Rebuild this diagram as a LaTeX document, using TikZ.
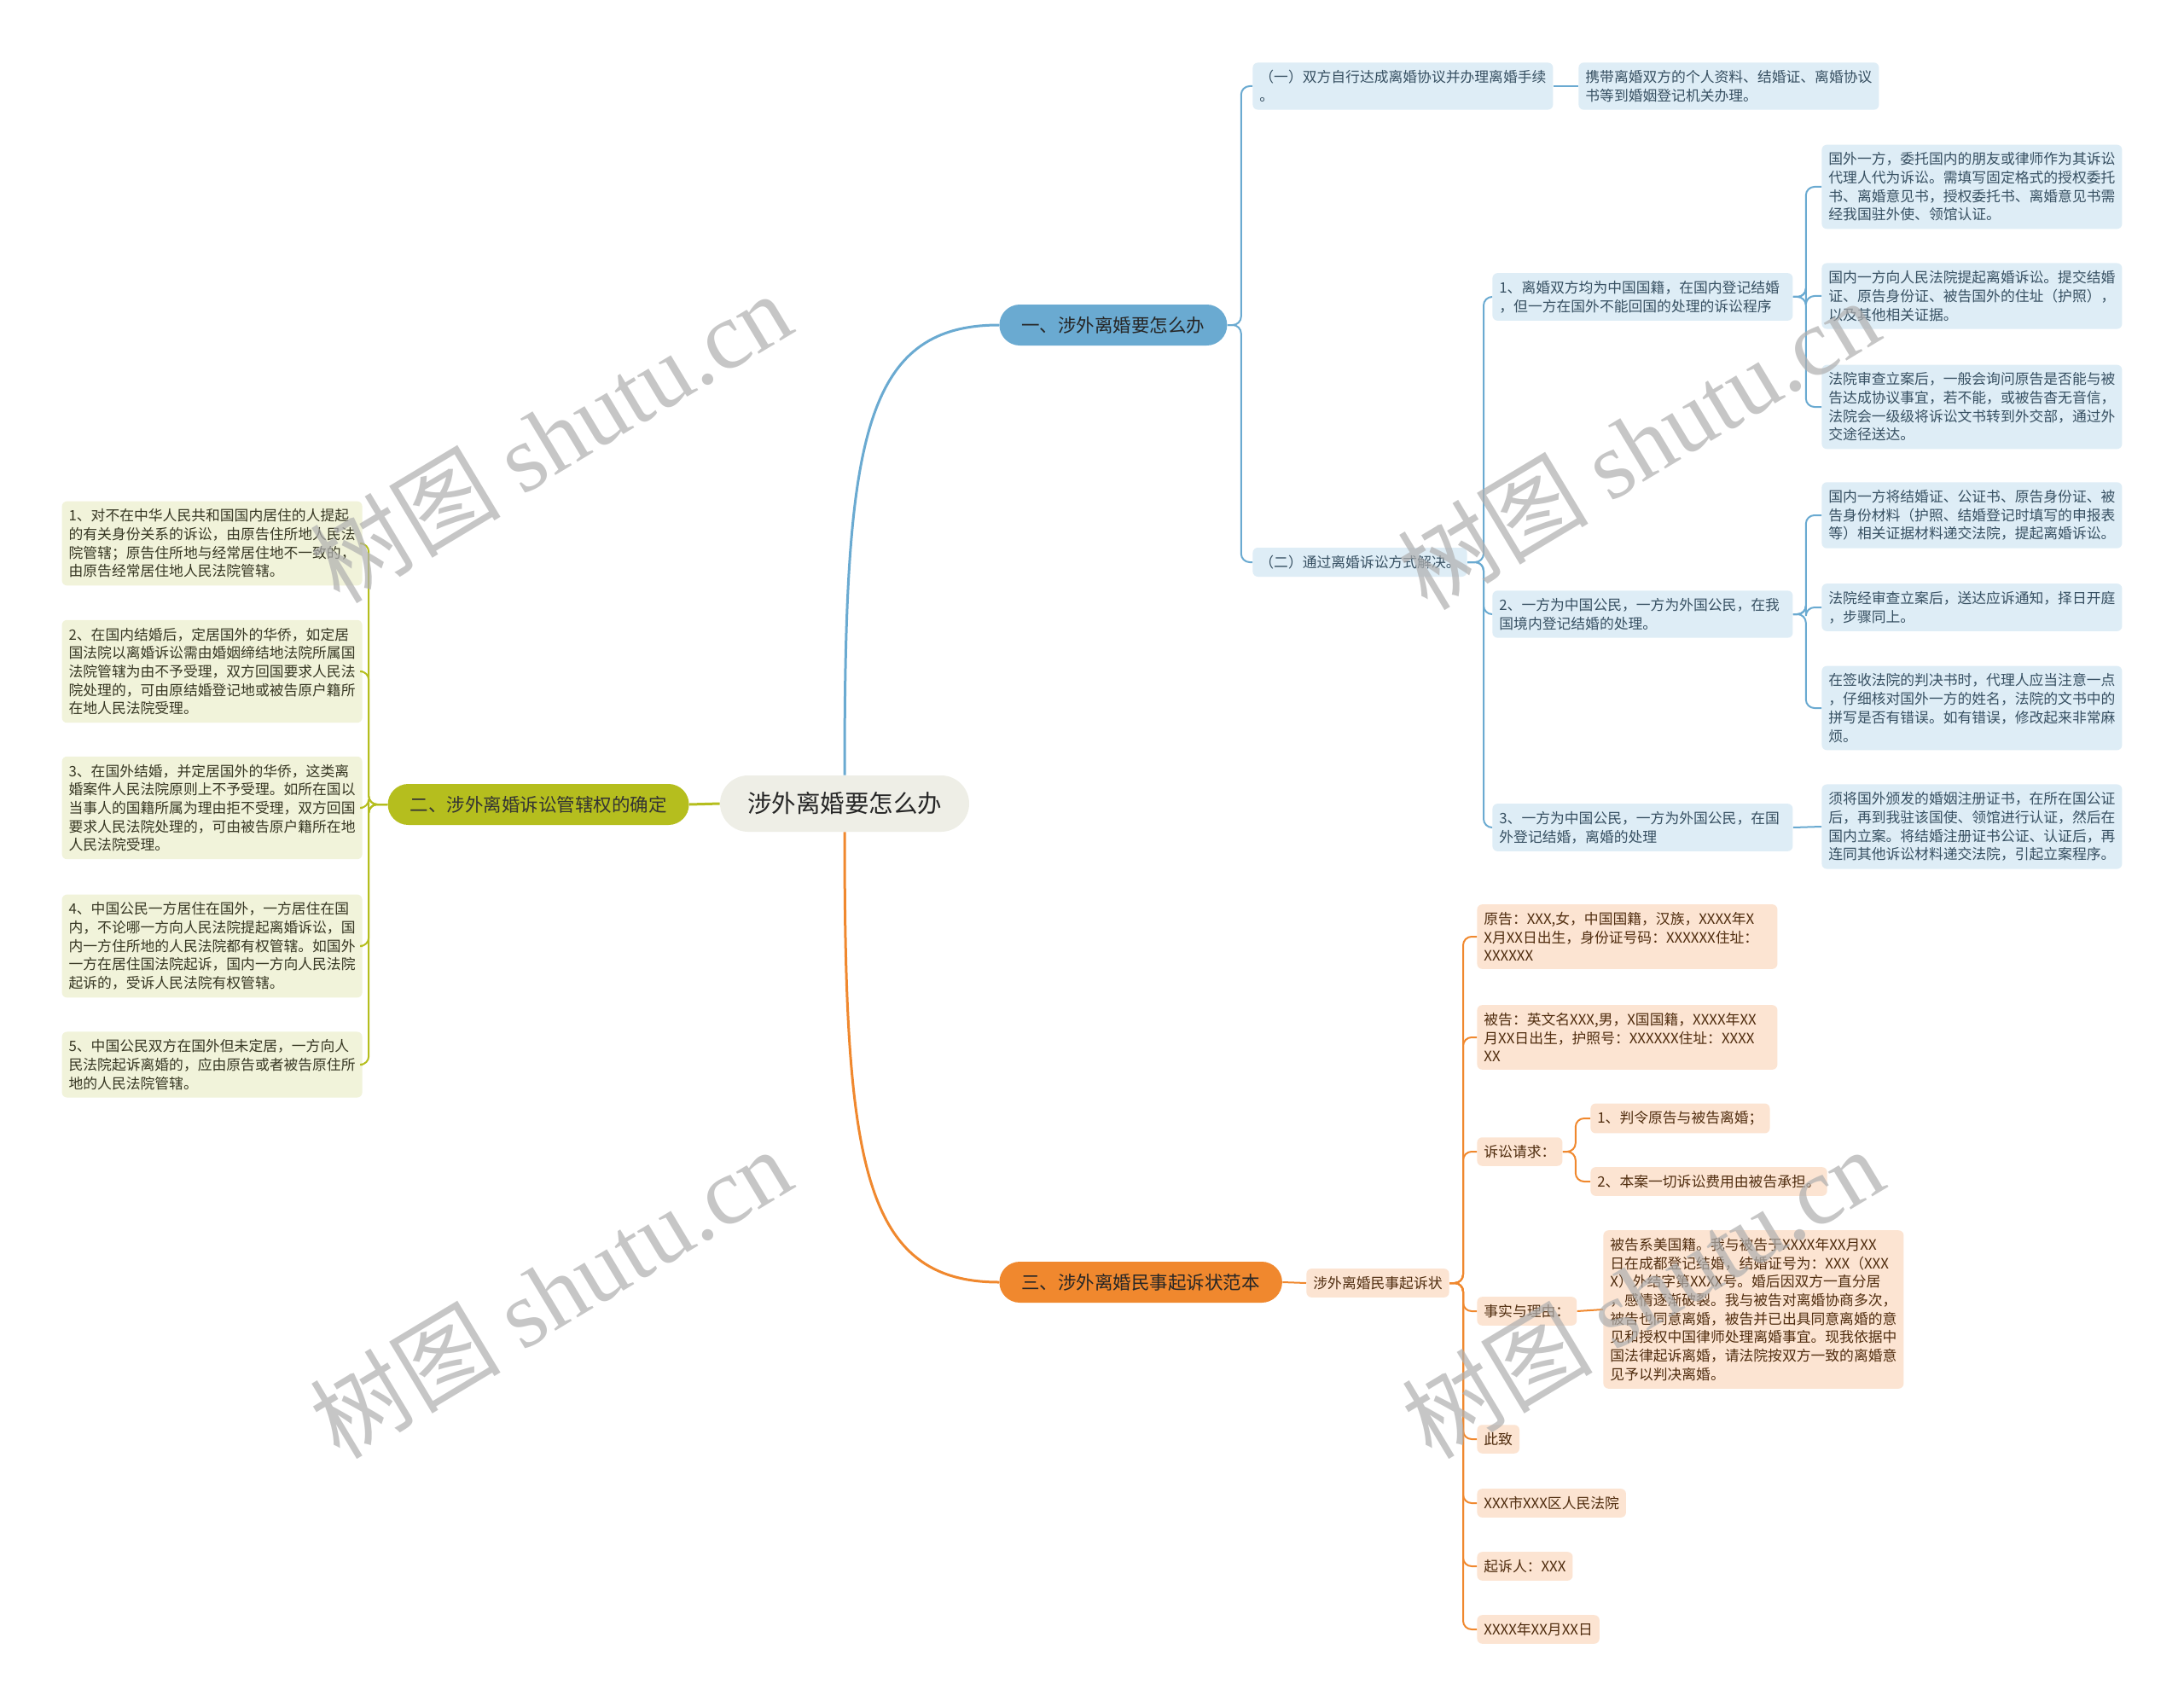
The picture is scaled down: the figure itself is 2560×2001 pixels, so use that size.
\documentclass[tikz,border=0pt]{standalone}
\usepackage{fontspec}
\setmainfont{Noto Sans CJK SC}
\newfontfamily\wmlatin{Liberation Serif}
\definecolor{cblue}{RGB}{106,170,209}
\definecolor{lblue}{RGB}{222,237,246}
\definecolor{tblue}{RGB}{55,80,98}
\definecolor{colive}{RGB}{181,190,30}
\definecolor{lolive}{RGB}{241,243,218}
\definecolor{tolive}{RGB}{55,55,35}
\definecolor{corange}{RGB}{240,136,46}
\definecolor{lorange}{RGB}{252,228,210}
\definecolor{torange}{RGB}{80,45,15}
\definecolor{croot}{RGB}{238,238,230}
\definecolor{wmgray}{RGB}{175,175,175}
\tikzset{
  base/.style={rounded corners=3pt, inner xsep=4pt, inner ysep=4.5pt, align=left,
    font=\fontsize{8.4pt}{10.85pt}\selectfont},
  wide/.style={text width=168pt},
  bbox/.style={base, fill=lblue, text=tblue},
  obox/.style={base, fill=lolive, text=tolive},
  rbox/.style={base, fill=lorange, text=torange},
  branch/.style={rounded corners=12pt, minimum height=24pt, inner xsep=13pt, inner ysep=0pt,
    font=\fontsize{10.75pt}{13pt}\selectfont},
  rootnode/.style={rounded corners=16.5pt, minimum height=33pt, inner xsep=16pt, inner ysep=0pt,
    fill=croot, text=black!85, font=\fontsize{14.25pt}{17pt}\selectfont},
  bline/.style={draw=cblue, line width=1pt, rounded corners=5pt},
  oline/.style={draw=colive, line width=1pt, rounded corners=5pt},
  rline/.style={draw=corange, line width=1pt, rounded corners=5pt},
  mainline/.style={line width=1.5pt},
  wm/.style={text=wmgray, text opacity=0.7, font=\fontsize{56pt}{64pt}\selectfont, inner sep=0pt}
}
\begin{document}
\begin{tikzpicture}[x=0.5pt,y=-0.5pt]
\path[use as bounding box, fill=white] (0,0) rectangle (2560,2001);

% root and branches
\node[rootnode] (root) at (990,942) {涉外离婚要怎么办};
\node[branch, fill=cblue, text=black!85, anchor=west] (b1) at (1171,381) {一、涉外离婚要怎么办};
\node[branch, fill=colive, text=black!80, anchor=east] (b2) at (808,943) {二、涉外离婚诉讼管辖权的确定};
\node[branch, fill=corange, text=black!85, anchor=west] (b3) at (1171,1503) {三、涉外离婚民事起诉状范本};

% blue section
\node[bbox,wide,anchor=west] (a1) at (1468,101) {（一）双方自行达成离婚协议并办理离婚手续\\。};
\node[bbox,wide,anchor=west] (a1a) at (1850,101) {携带离婚双方的个人资料、结婚证、离婚协议\\书等到婚姻登记机关办理。};
\node[bbox,anchor=west] (a2) at (1468,659) {（二）通过离婚诉讼方式解决。};
\node[bbox,wide,anchor=west] (p1) at (1749,348) {1、离婚双方均为中国国籍，在国内登记结婚\\，但一方在国外不能回国的处理的诉讼程序};
\node[bbox,wide,anchor=west] (p2) at (1749,720) {2、一方为中国公民，一方为外国公民，在我\\国境内登记结婚的处理。};
\node[bbox,wide,anchor=west] (p3) at (1749,970) {3、一方为中国公民，一方为外国公民，在国\\外登记结婚，离婚的处理};
\node[bbox,wide,anchor=west] (c1) at (2135,219) {国外一方，委托国内的朋友或律师作为其诉讼\\代理人代为诉讼。需填写固定格式的授权委托\\书、离婚意见书，授权委托书、离婚意见书需\\经我国驻外使、领馆认证。};
\node[bbox,wide,anchor=west] (c2) at (2135,347) {国内一方向人民法院提起离婚诉讼。提交结婚\\证、原告身份证、被告国外的住址（护照），\\以及其他相关证据。};
\node[bbox,wide,anchor=west] (c3) at (2135,477) {法院审查立案后，一般会询问原告是否能与被\\告达成协议事宜，若不能，或被告杳无音信，\\法院会一级级将诉讼文书转到外交部，通过外\\交途径送达。};
\node[bbox,wide,anchor=west] (c4) at (2135,604) {国内一方将结婚证、公证书、原告身份证、被\\告身份材料（护照、结婚登记时填写的申报表\\等）相关证据材料递交法院，提起离婚诉讼。};
\node[bbox,wide,anchor=west] (c5) at (2135,712) {法院经审查立案后，送达应诉通知，择日开庭\\，步骤同上。};
\node[bbox,wide,anchor=west] (c6) at (2135,830) {在签收法院的判决书时，代理人应当注意一点\\，仔细核对国外一方的姓名，法院的文书中的\\拼写是否有错误。如有错误，修改起来非常麻\\烦。};
\node[bbox,wide,anchor=west] (c7) at (2135,969) {须将国外颁发的婚姻注册证书，在所在国公证\\后，再到我驻该国使、领馆进行认证，然后在\\国内立案。将结婚注册证书公证、认证后，再\\连同其他诉讼材料递交法院，引起立案程序。};

% olive section
\node[obox,wide,anchor=east] (l1) at (425,637) {1、对不在中华人民共和国国内居住的人提起\\的有关身份关系的诉讼，由原告住所地人民法\\院管辖；原告住所地与经常居住地不一致的，\\由原告经常居住地人民法院管辖。};
\node[obox,wide,anchor=east] (l2) at (425,787) {2、在国内结婚后，定居国外的华侨，如定居\\国法院以离婚诉讼需由婚姻缔结地法院所属国\\法院管辖为由不予受理，双方回国要求人民法\\院处理的，可由原结婚登记地或被告原户籍所\\在地人民法院受理。};
\node[obox,wide,anchor=east] (l3) at (425,947) {3、在国外结婚，并定居国外的华侨，这类离\\婚案件人民法院原则上不予受理。如所在国以\\当事人的国籍所属为理由拒不受理，双方回国\\要求人民法院处理的，可由被告原户籍所在地\\人民法院受理。};
\node[obox,wide,anchor=east] (l4) at (425,1109) {4、中国公民一方居住在国外，一方居住在国\\内，不论哪一方向人民法院提起离婚诉讼，国\\内一方住所地的人民法院都有权管辖。如国外\\一方在居住国法院起诉，国内一方向人民法院\\起诉的，受诉人民法院有权管辖。};
\node[obox,wide,anchor=east] (l5) at (425,1248) {5、中国公民双方在国外但未定居，一方向人\\民法院起诉离婚的，应由原告或者被告原住所\\地的人民法院管辖。};

% orange section
\node[rbox,anchor=west] (d) at (1531,1504) {涉外离婚民事起诉状};
\node[rbox,wide,anchor=west] (e1) at (1731,1098) {原告：XXX,女，中国国籍，汉族，XXXX年X\\X月XX日出生，身份证号码：XXXXXX住址：\\XXXXXX};
\node[rbox,wide,anchor=west] (e2) at (1731,1216) {被告：英文名XXX,男，X国国籍，XXXX年XX\\月XX日出生，护照号：XXXXXX住址：XXXX\\XX};
\node[rbox,anchor=west] (e3) at (1731,1350) {诉讼请求：};
\node[rbox,anchor=west] (e3a) at (1864,1311) {1、判令原告与被告离婚；};
\node[rbox,anchor=west] (e3b) at (1864,1385) {2、本案一切诉讼费用由被告承担。};
\node[rbox,anchor=west] (e4) at (1731,1537) {事实与理由：};
\node[rbox,wide,anchor=west] (e4a) at (1879,1535) {被告系美国籍。我与被告于XXXX年XX月XX\\日在成都登记结婚，结婚证号为：XXX（XXX\\X）外结字第XXXX号。婚后因双方一直分居\\，感情逐渐破裂。我与被告对离婚协商多次，\\被告也同意离婚，被告并已出具同意离婚的意\\见和授权中国律师处理离婚事宜。现我依据中\\国法律起诉离婚，请法院按双方一致的离婚意\\见予以判决离婚。};
\node[rbox,anchor=west] (e5) at (1731,1687) {此致};
\node[rbox,anchor=west] (e6) at (1731,1762) {XXX市XXX区人民法院};
\node[rbox,anchor=west] (e7) at (1731,1836) {起诉人：XXX};
\node[rbox,anchor=west] (e8) at (1731,1910) {XXXX年XX月XX日};

% main connectors
\draw[cblue, mainline] (root.north) .. controls (990,520) and (1010,381) .. (b1.west);
\draw[corange, mainline] (root.south) .. controls (990,1360) and (1010,1503) .. (b3.west);
\draw[colive, mainline] (root.west) -- (b2.east);

% blue connectors
\foreach \t in {a1,a2} \draw[bline] (b1.east) -- ++(16,0) |- (\t.west);
\draw[bline] (a1.east) -- (a1a.west);
\foreach \t in {p1,p2,p3} \draw[bline] (a2.east) -- ++(19,0) |- (\t.west);
\foreach \t in {c1,c2,c3} \draw[bline] (p1.east) -- ++(15,0) |- (\t.west);
\foreach \t in {c4,c5,c6} \draw[bline] (p2.east) -- ++(15,0) |- (\t.west);
\draw[bline] (p3.east) -- (c7.west);

% olive connectors
\foreach \t in {l1,l2,l3,l4,l5} \draw[oline] (b2.west) -- ++(-22,0) |- (\t.east);

% orange connectors
\draw[rline] (b3.east) -- (d.west);
\foreach \t in {e1,e2,e3,e4,e5,e6,e7,e8} \draw[rline] (d.east) -- ++(16,0) |- (\t.west);
\foreach \t in {e3a,e3b} \draw[rline] (e3.east) -- ++(15,0) |- (\t.west);
\draw[rline] (e4.east) -- (e4a.west);

% watermarks
\node[wm, rotate=31] (w1) at (645,512) {树图 {\wmlatin shutu.cn}};
\node[wm, rotate=31] (w2) at (1920,520) {树图 {\wmlatin shutu.cn}};
\node[wm, rotate=31] (w3) at (645,1515) {树图 {\wmlatin shutu.cn}};
\node[wm, rotate=31] (w4) at (1925,1515) {树图 {\wmlatin shutu.cn}};
\end{tikzpicture}
\end{document}
